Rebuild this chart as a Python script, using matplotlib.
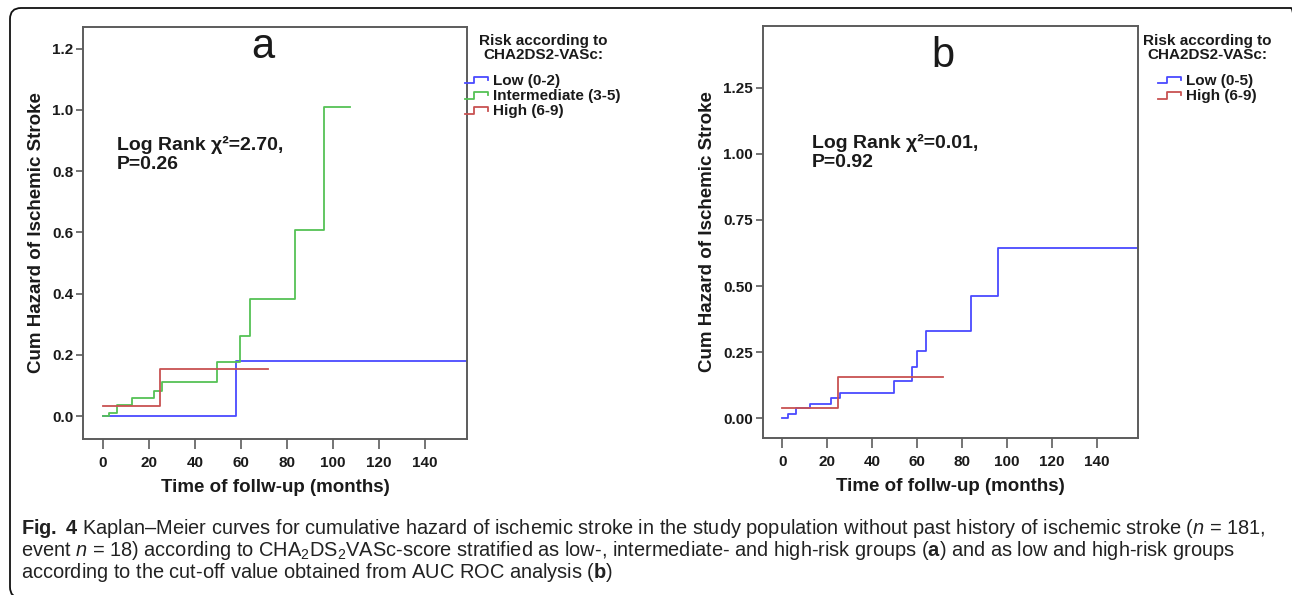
import matplotlib
matplotlib.use("Agg")
import matplotlib.pyplot as plt
from matplotlib import font_manager as fm
from matplotlib.lines import Line2D
from matplotlib.legend_handler import HandlerBase
from matplotlib.patches import FancyBboxPatch
from matplotlib.transforms import IdentityTransform

# panel a: CHA2DS2-VASc low / intermediate / high
low_a_t = [0, 57.8, 165]
low_a_h = [0, 0.181, 0.181]
mid_a_t = [0, 2.4, 6.1, 12.6, 22.0, 25.6, 49.5, 59.7, 64.0, 83.6, 95.9, 107.5]
mid_a_h = [0, 0.010, 0.036, 0.058, 0.083, 0.110, 0.175, 0.262, 0.381, 0.609, 1.010, 1.010]
high_a_t = [0, 24.9, 71.7]
high_a_h = [0.034, 0.153, 0.153]

# panel b: cut-off from ROC analysis
low_b_t = [0, 2.5, 6.2, 12.2, 21.8, 25.5, 49.6, 57.9, 59.7, 63.8, 83.7, 95.8, 165]
low_b_h = [0, 0.016, 0.038, 0.053, 0.076, 0.095, 0.142, 0.193, 0.255, 0.330, 0.464, 0.645, 0.645]
high_b_t = [0, 24.8, 71.5]
high_b_h = [0.040, 0.157, 0.157]

labels_a = ["Low (0-2)", "Intermediate (3-5)", "High (6-9)"]
labels_b = ["Low (0-5)", "High (6-9)"]
xticks = [0, 20, 40, 60, 80, 100, 120, 140]
yticks_a = [0.0, 0.2, 0.4, 0.6, 0.8, 1.0, 1.2]
yticks_b = [0.0, 0.25, 0.5, 0.75, 1.0, 1.25]

BLUE, GREEN, RED = "#4a4aff", "#55c255", "#c85252"
SPINE = "#5c5c5c"
TXT = "#1a1a1a"

names = {f.name for f in fm.fontManager.ttflist}
NARROW = "Liberation Sans Narrow" if "Liberation Sans Narrow" in names else "Liberation Sans"
plt.rcParams["font.family"] = [NARROW, "DejaVu Sans"]
plt.rcParams["mathtext.fontset"] = "custom"
plt.rcParams["mathtext.rm"] = NARROW
plt.rcParams["mathtext.it"] = NARROW + ":italic"
plt.rcParams["mathtext.bf"] = NARROW + ":bold"


class StepHandler(HandlerBase):
    def create_artists(self, legend, orig_handle, xdescent, ydescent,
                       width, height, fontsize, trans):
        fx = [0, 0.35, 0.35, 0.9, 0.9]
        fy = [0.15, 0.15, 0.75, 0.75, 0.45]
        xs = [-xdescent + width * f for f in fx]
        ys = [-ydescent + height * f for f in fy]
        ln = Line2D(xs, ys, color=orig_handle.get_color(), lw=1.3)
        ln.set_transform(trans)
        return [ln]


W, H = 1292, 595
fig = plt.figure(figsize=(W / 100, H / 100), dpi=100)

ax_a = fig.add_axes([83 / W, 1 - 439 / H, 384 / W, 412.3 / H])
ax_b = fig.add_axes([762.7 / W, 1 - 438 / H, 375.6 / W, 412 / H])


def style(ax, yticks, fmt, ylim):
    ax.set_xlim(-8.7, 158.3)
    ax.set_ylim(*ylim)
    ax.set_xticks(xticks)
    ax.set_yticks(yticks)
    ax.set_yticklabels([fmt.format(v) for v in yticks])
    for s in ax.spines.values():
        s.set_color(SPINE)
        s.set_linewidth(1.4)
    ax.tick_params(axis="x", length=7, width=1.2, color=SPINE, pad=5,
                   labelsize=11, labelcolor=TXT)
    ax.tick_params(axis="y", length=5, width=1.2, color=SPINE, pad=2,
                   labelsize=11, labelcolor=TXT)
    for lab in ax.get_xticklabels() + ax.get_yticklabels():
        lab.set_fontweight("bold")
    ax.set_xlabel("Time of follw-up (months)", fontsize=13.5, fontweight="bold",
                  color=TXT, labelpad=7)
    ax.set_ylabel("Cum Hazard of Ischemic Stroke", fontsize=13.5,
                  fontweight="bold", color=TXT, labelpad=5)


la, = ax_a.step(low_a_t, low_a_h, where="post", color=BLUE, lw=1.3)
ma, = ax_a.step(mid_a_t, mid_a_h, where="post", color=GREEN, lw=1.3)
ha, = ax_a.step(high_a_t, high_a_h, where="post", color=RED, lw=1.3)
style(ax_a, yticks_a, "{:.1f}", (-0.075, 1.272))

lb, = ax_b.step(low_b_t, low_b_h, where="post", color=BLUE, lw=1.3)
hb, = ax_b.step(high_b_t, high_b_h, where="post", color=RED, lw=1.3)
style(ax_b, yticks_b, "{:.2f}", (-0.075, 1.484))

ax_a.text(0.469, 0.925, "a", transform=ax_a.transAxes, ha="center",
          va="baseline", fontsize=30, color=TXT, family="Liberation Sans")
ax_b.text(0.48, 0.90, "b", transform=ax_b.transAxes, ha="center",
          va="baseline", fontsize=30, color=TXT, family="Liberation Sans")

ax_a.text(0.088, 0.655, "Log Rank χ²=2.70,\nP=0.26", transform=ax_a.transAxes,
          ha="left", va="baseline", fontsize=14, fontweight="bold", color=TXT,
          linespacing=1.15)
ax_b.text(0.13, 0.658, "Log Rank χ²=0.01,\nP=0.92", transform=ax_b.transAxes,
          ha="left", va="baseline", fontsize=14, fontweight="bold", color=TXT,
          linespacing=1.15)

legends = []
for ax, handles, labels, x0 in [(ax_a, [la, ma, ha], labels_a, 465),
                                 (ax_b, [lb, hb], labels_b, 1158)]:
    leg = ax.legend(handles, labels, loc="upper left",
                    bbox_to_anchor=(x0 / W, 1 - 74 / H),
                    bbox_transform=fig.transFigure, frameon=False,
                    borderpad=0, borderaxespad=0,
                    handlelength=1.7, handletextpad=0.15, labelspacing=0.08,
                    prop={"size": 11, "weight": "bold"},
                    handler_map={Line2D: StepHandler()})
    for t in leg.get_texts():
        t.set_color(TXT)
    legends.append(leg)

# rounded frame around figure + caption
frame = FancyBboxPatch((10, -3), 1292, H - 8 + 3, boxstyle="round,pad=0,rounding_size=11",
                       transform=IdentityTransform(), fill=False,
                       edgecolor="#111111", lw=1.3)
fig.patches.append(frame)

cap_lines = [
    r"$\mathbf{Fig.}$ $\mathbf{4}$ Kaplan–Meier curves for cumulative hazard of ischemic stroke in the study population without past history of ischemic stroke ($n$ = 181,",
    r"event $n$ = 18) according to CHA$_2$DS$_2$VASc-score stratified as low-, intermediate- and high-risk groups ($\mathbf{a}$) and as low and high-risk groups",
    r"according to the cut-off value obtained from AUC ROC analysis ($\mathbf{b}$)",
]
cap_y = [528, 550, 572]
caps = [fig.text(21 / W, 1 - y / H, s, ha="left", va="center", fontsize=13,
                 color="#222222") for s, y in zip(cap_lines, cap_y)]
fig.canvas.draw()
r = fig.canvas.get_renderer()
w1 = caps[0].get_window_extent(r).width
size = 13 * (1243 / w1)
for c in caps:
    c.set_fontsize(size)

# legend titles centred over the entries
for leg in legends:
    bb = leg.get_window_extent(r)
    cx = (bb.x0 + bb.x1) / 2 / W
    fig.text(cx, 1 - 34 / H, "Risk according to\nCHA2DS2-VASc:", ha="center",
             va="top", multialignment="center", fontsize=11,
             fontweight="bold", color=TXT, linespacing=1.0)

fig.savefig("out.png", dpi=100)
